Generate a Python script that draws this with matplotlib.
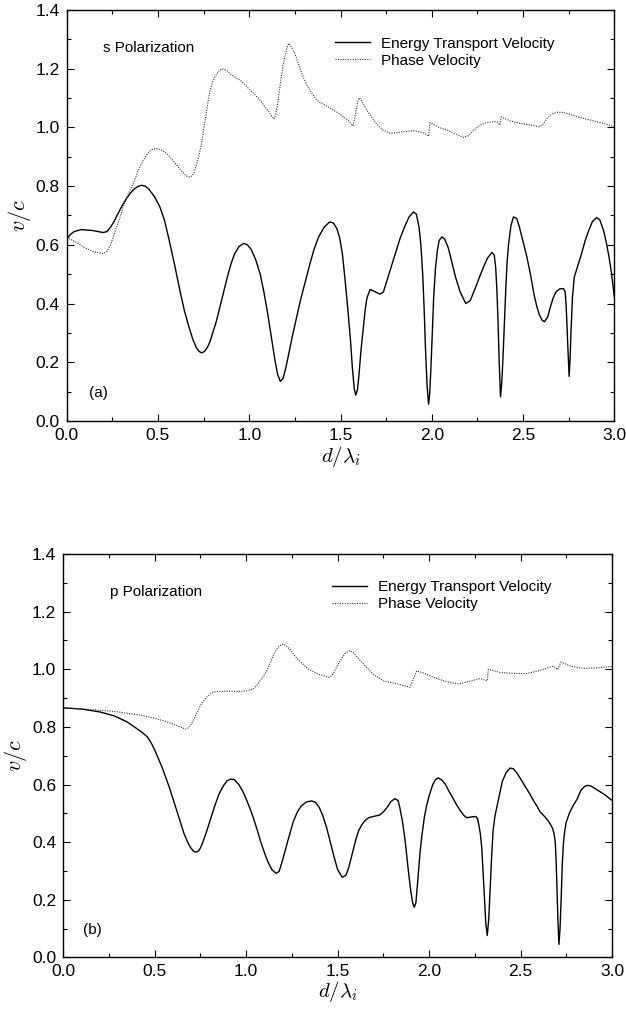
import matplotlib
matplotlib.use("Agg")
import matplotlib.pyplot as plt
from matplotlib.ticker import MultipleLocator, FormatStrFormatter

plt.rcParams['font.family'] = ['Liberation Sans', 'DejaVu Sans']
plt.rcParams['mathtext.fontset'] = 'cm'

# (a) s polarization
xa_energy = [0.0, 0.02, 0.04, 0.08, 0.14, 0.2, 0.22, 0.24, 0.26, 0.28, 0.305, 0.33, 0.35, 0.37, 0.39, 0.41, 0.43, 0.45,
             0.48, 0.51, 0.535, 0.56, 0.59, 0.62, 0.645, 0.67, 0.69, 0.71, 0.725, 0.74, 0.755, 0.77, 0.785,
             0.80, 0.82, 0.84, 0.86, 0.88, 0.90, 0.92, 0.945, 0.97, 0.99, 1.01, 1.035, 1.06, 1.08, 1.10,
             1.12, 1.14, 1.155, 1.17, 1.185, 1.20, 1.22, 1.24, 1.26, 1.28, 1.305, 1.33, 1.355, 1.38, 1.41,
             1.44, 1.46, 1.48, 1.495, 1.51, 1.525, 1.54, 1.555, 1.565, 1.575, 1.583, 1.592, 1.60, 1.612,
             1.625, 1.635, 1.645, 1.662, 1.69, 1.717, 1.735, 1.75, 1.775, 1.80, 1.825, 1.85, 1.875, 1.90,
             1.915, 1.93, 1.94, 1.95, 1.958, 1.965, 1.974, 1.982, 1.988, 1.995, 2.003, 2.01, 2.02, 2.03,
             2.04, 2.055, 2.07, 2.09, 2.11, 2.13, 2.155, 2.186, 2.21, 2.23, 2.255, 2.28, 2.305, 2.329,
             2.342, 2.35, 2.356, 2.362, 2.369, 2.376, 2.383, 2.39, 2.398, 2.405, 2.412, 2.42, 2.433, 2.447,
             2.465, 2.48, 2.50, 2.52, 2.54, 2.56, 2.575, 2.59, 2.605, 2.617, 2.635, 2.65, 2.665, 2.68,
             2.70, 2.721, 2.73, 2.735, 2.74, 2.745, 2.752, 2.757, 2.762, 2.77, 2.78, 2.80, 2.82, 2.84,
             2.86, 2.88, 2.903, 2.92, 2.94, 2.955, 2.97, 2.985, 3.0]
ya_energy = [0.62, 0.635, 0.645, 0.652, 0.649, 0.642, 0.645, 0.66, 0.68, 0.705, 0.735, 0.76, 0.777, 0.79, 0.799, 0.803, 0.80, 0.79,
             0.765, 0.73, 0.685, 0.62, 0.535, 0.445, 0.375, 0.32, 0.28, 0.25, 0.237, 0.232, 0.237, 0.25, 0.27,
             0.30, 0.34, 0.39, 0.44, 0.49, 0.535, 0.57, 0.595, 0.605, 0.60, 0.585, 0.55, 0.50, 0.44, 0.37,
             0.29, 0.21, 0.16, 0.135, 0.145, 0.18, 0.24, 0.30, 0.355, 0.41, 0.47, 0.53, 0.585, 0.627, 0.66,
             0.678, 0.675, 0.655, 0.625, 0.57, 0.48, 0.38, 0.27, 0.18, 0.11, 0.088, 0.105, 0.15, 0.24,
             0.32, 0.38, 0.42, 0.448, 0.44, 0.432, 0.44, 0.47, 0.52, 0.57, 0.62, 0.66, 0.695, 0.712,
             0.705, 0.66, 0.60, 0.50, 0.38, 0.25, 0.12, 0.057, 0.09, 0.18, 0.31, 0.42, 0.52, 0.58,
             0.615, 0.627, 0.62, 0.59, 0.54, 0.49, 0.44, 0.40, 0.41, 0.44, 0.48, 0.52, 0.555, 0.574,
             0.565, 0.52, 0.45, 0.35, 0.20, 0.082, 0.13, 0.22, 0.34, 0.45, 0.54, 0.60, 0.665, 0.695,
             0.69, 0.66, 0.61, 0.56, 0.50, 0.43, 0.39, 0.36, 0.343, 0.338, 0.355, 0.39, 0.42, 0.44,
             0.45, 0.451, 0.44, 0.40, 0.33, 0.25, 0.152, 0.21, 0.30, 0.42, 0.49, 0.53, 0.57, 0.615,
             0.65, 0.68, 0.693, 0.685, 0.65, 0.61, 0.56, 0.50, 0.42]

xa_phase = [0.0, 0.05, 0.09, 0.14, 0.2, 0.22, 0.24, 0.255, 0.27, 0.29, 0.31, 0.335, 0.356, 0.375, 0.39, 0.405, 0.42,
            0.44, 0.46, 0.48, 0.493, 0.515, 0.54, 0.56, 0.58, 0.605, 0.63, 0.655, 0.676, 0.695, 0.71, 0.725,
            0.74, 0.752, 0.765, 0.775, 0.785, 0.797, 0.81, 0.83, 0.849, 0.875, 0.90, 0.925, 0.95, 0.975,
            1.00, 1.03, 1.059, 1.08, 1.10, 1.12, 1.136, 1.145, 1.155, 1.165, 1.175, 1.185, 1.195, 1.205,
            1.216, 1.23, 1.25, 1.265, 1.278, 1.30, 1.32, 1.345, 1.37, 1.395, 1.42, 1.461, 1.49, 1.516,
            1.545, 1.567, 1.577, 1.585, 1.595, 1.603, 1.62, 1.644, 1.67, 1.70, 1.735, 1.771, 1.84, 1.899,
            1.935, 1.96, 1.982, 1.99, 2.04, 2.082, 2.13, 2.173, 2.20, 2.22, 2.245, 2.264, 2.31, 2.356,
            2.372, 2.38, 2.43, 2.484, 2.54, 2.59, 2.61, 2.63, 2.65, 2.666, 2.69, 2.721, 2.77, 2.83,
            2.90, 2.95, 3.0]
ya_phase = [0.625, 0.61, 0.593, 0.578, 0.57, 0.578, 0.60, 0.625, 0.655, 0.69, 0.73, 0.77, 0.798, 0.825, 0.85, 0.87, 0.889,
            0.908, 0.922, 0.927, 0.928, 0.924, 0.915, 0.903, 0.889, 0.87, 0.85, 0.835, 0.83, 0.842, 0.87, 0.905,
            0.95, 1.0, 1.05, 1.09, 1.127, 1.15, 1.17, 1.19, 1.20, 1.195, 1.18, 1.17, 1.161, 1.147,
            1.13, 1.112, 1.093, 1.075, 1.06, 1.042, 1.028, 1.045, 1.08, 1.125, 1.17, 1.21, 1.24, 1.268,
            1.286, 1.275, 1.25, 1.225, 1.20, 1.165, 1.14, 1.115, 1.093, 1.082, 1.075, 1.059, 1.048, 1.036,
            1.022, 1.005, 1.03, 1.06, 1.09, 1.101, 1.085, 1.059, 1.035, 1.01, 0.99, 0.98, 0.985, 0.989,
            0.985, 0.98, 0.97, 1.016, 1.0, 0.991, 0.978, 0.966, 0.972, 0.985, 0.998, 1.008, 1.018, 1.02,
            1.008, 1.036, 1.022, 1.014, 1.008, 1.002, 1.012, 1.03, 1.042, 1.048, 1.052, 1.051, 1.042, 1.031,
            1.02, 1.012, 1.002]

# (b) p polarization
xb_energy = [0.0, 0.1, 0.2, 0.28, 0.347, 0.40, 0.437, 0.46, 0.48, 0.50, 0.52, 0.54, 0.56, 0.58, 0.60, 0.62,
             0.64, 0.66, 0.68, 0.695, 0.71, 0.72, 0.729, 0.74, 0.75, 0.76, 0.78, 0.80, 0.825, 0.85, 0.875,
             0.895, 0.915, 0.935, 0.96, 0.98, 1.00, 1.02, 1.04, 1.06, 1.08, 1.10, 1.12, 1.14, 1.163, 1.18,
             1.20, 1.23, 1.258, 1.28, 1.30, 1.33, 1.358, 1.38, 1.40, 1.42, 1.44, 1.46, 1.48, 1.50, 1.525,
             1.545, 1.56, 1.58, 1.60, 1.615, 1.632, 1.65, 1.67, 1.70, 1.73, 1.75, 1.77, 1.79, 1.813, 1.83,
             1.84, 1.855, 1.87, 1.885, 1.90, 1.91, 1.919, 1.928, 1.94, 1.95, 1.96, 1.975, 1.987, 2.00, 2.02,
             2.035, 2.05, 2.07, 2.09, 2.11, 2.132, 2.15, 2.17, 2.19, 2.205, 2.22, 2.235, 2.255, 2.265,
             2.272, 2.28, 2.288, 2.295, 2.303, 2.31, 2.318, 2.326, 2.335, 2.342, 2.35, 2.36, 2.37, 2.385,
             2.40, 2.42, 2.442, 2.46, 2.48, 2.505, 2.533, 2.55, 2.57, 2.59, 2.606, 2.63, 2.65, 2.665, 2.675,
             2.683, 2.69, 2.695, 2.70, 2.705, 2.71, 2.716, 2.722, 2.728, 2.735, 2.742, 2.75, 2.77, 2.789,
             2.81, 2.83, 2.85, 2.865, 2.885, 2.91, 2.935, 2.96, 2.98, 3.0]
yb_energy = [0.866, 0.862, 0.852, 0.838, 0.818, 0.795, 0.778, 0.765, 0.745, 0.72, 0.69, 0.66, 0.625, 0.59, 0.55, 0.51,
             0.47, 0.43, 0.40, 0.382, 0.37, 0.366, 0.366, 0.37, 0.38, 0.395, 0.43, 0.47, 0.52, 0.565, 0.595,
             0.613, 0.619, 0.617, 0.60, 0.578, 0.55, 0.518, 0.483, 0.443, 0.40, 0.363, 0.33, 0.305, 0.292, 0.298,
             0.34, 0.41, 0.472, 0.505, 0.525, 0.54, 0.543, 0.538, 0.52, 0.49, 0.45, 0.40, 0.35, 0.305, 0.278,
             0.285, 0.31, 0.36, 0.41, 0.44, 0.46, 0.475, 0.485, 0.49, 0.494, 0.505, 0.52, 0.54, 0.551, 0.545,
             0.52, 0.47, 0.40, 0.31, 0.23, 0.19, 0.174, 0.19, 0.28, 0.36, 0.42, 0.49, 0.528, 0.56, 0.60,
             0.617, 0.623, 0.615, 0.60, 0.575, 0.551, 0.53, 0.51, 0.493, 0.485, 0.486, 0.488, 0.489, 0.482,
             0.46, 0.43, 0.381, 0.30, 0.20, 0.12, 0.076, 0.13, 0.25, 0.35, 0.44, 0.49, 0.52, 0.565,
             0.61, 0.64, 0.657, 0.655, 0.64, 0.615, 0.586, 0.568, 0.545, 0.525, 0.506, 0.49, 0.475, 0.46, 0.448,
             0.43, 0.40, 0.33, 0.22, 0.12, 0.045, 0.10, 0.20, 0.32, 0.40, 0.44, 0.47, 0.505, 0.528,
             0.55, 0.58, 0.593, 0.597, 0.595, 0.585, 0.575, 0.565, 0.555, 0.545]

xb_phase = [0.0, 0.1, 0.2, 0.3, 0.42, 0.50, 0.565, 0.62, 0.669, 0.685, 0.70, 0.715, 0.729, 0.745, 0.76, 0.784,
            0.81, 0.839, 0.90, 0.966, 1.00, 1.039, 1.055, 1.07, 1.09, 1.112, 1.13, 1.15, 1.165, 1.18,
            1.203, 1.225, 1.25, 1.27, 1.294, 1.34, 1.394, 1.454, 1.467, 1.48, 1.495, 1.512, 1.54, 1.567,
            1.59, 1.61, 1.635, 1.659, 1.70, 1.75, 1.82, 1.896, 1.91, 1.932, 1.98, 2.023, 2.09, 2.16,
            2.22, 2.278, 2.318, 2.324, 2.388, 2.46, 2.533, 2.60, 2.679, 2.703, 2.72, 2.78, 2.843, 2.92,
            3.0]
yb_phase = [0.866, 0.863, 0.858, 0.852, 0.841, 0.83, 0.818, 0.805, 0.792, 0.797, 0.81, 0.828, 0.847, 0.868, 0.885, 0.903,
            0.918, 0.923, 0.924, 0.923, 0.925, 0.932, 0.942, 0.955, 0.972, 0.994, 1.02, 1.05, 1.068, 1.08,
            1.088, 1.078, 1.06, 1.043, 1.028, 1.0, 0.983, 0.972, 0.978, 0.99, 1.008, 1.028, 1.055, 1.065,
            1.055, 1.04, 1.022, 1.006, 0.98, 0.96, 0.95, 0.938, 0.96, 0.994, 0.985, 0.972, 0.958, 0.949,
            0.958, 0.968, 0.96, 1.0, 0.989, 0.986, 0.985, 0.995, 1.011, 0.999, 1.025, 1.01, 1.003, 1.005,
            1.01]

panels = [
    ([0.1065, 0.5836, 0.8750, 0.4065], xa_energy, ya_energy, xa_phase, ya_phase, "s Polarization", "(a)", 0.066, 0.041, 1),
    ([0.1011, 0.0530, 0.8765, 0.3990], xb_energy, yb_energy, xb_phase, yb_phase, "p Polarization", "(b)", 0.085, 0.036, 0),
]

fig = plt.figure(figsize=(6.26, 10.11), dpi=100)

for rect, xe, ye, xp, yp, title, tag, tx, lx, xpad in panels:
    ax = fig.add_axes(rect)
    ax.plot(xe, ye, color="black", lw=1.0, label="Energy Transport Velocity")
    ax.plot(xp, yp, color="#333333", lw=0.8, linestyle=(0, (1, 1.2)), label="Phase Velocity")
    ax.set_xlim(0, 3.0)
    ax.set_ylim(0, 1.4)
    ax.xaxis.set_major_locator(MultipleLocator(0.5))
    ax.xaxis.set_minor_locator(MultipleLocator(0.25))
    ax.yaxis.set_major_locator(MultipleLocator(0.2))
    ax.yaxis.set_minor_locator(MultipleLocator(0.1))
    ax.xaxis.set_major_formatter(FormatStrFormatter('%.1f'))
    ax.yaxis.set_major_formatter(FormatStrFormatter('%.1f'))
    ax.tick_params(which="both", direction="in", top=True, right=True, labelsize=12.5, pad=5, width=0.8)
    ax.tick_params(which="major", length=5)
    ax.tick_params(which="minor", length=3)
    for s in ax.spines.values():
        s.set_linewidth(1.0)
    ax.set_ylabel(r"$v/c$", fontsize=16, labelpad=2)
    ax.set_xlabel(r"$d/\lambda_i$", fontsize=15, labelpad=xpad)
    ax.text(tx, 0.907, title, transform=ax.transAxes, fontsize=11, va="center", ha="left")
    ax.text(lx, 0.068, tag, transform=ax.transAxes, fontsize=11, va="center", ha="left")
    ax.legend(loc="upper left", bbox_to_anchor=(0.49, 0.935), frameon=False, fontsize=11,
              handlelength=2.3, handletextpad=0.7, labelspacing=0.2, borderpad=0, borderaxespad=0)

fig.savefig("out.png", dpi=100)
